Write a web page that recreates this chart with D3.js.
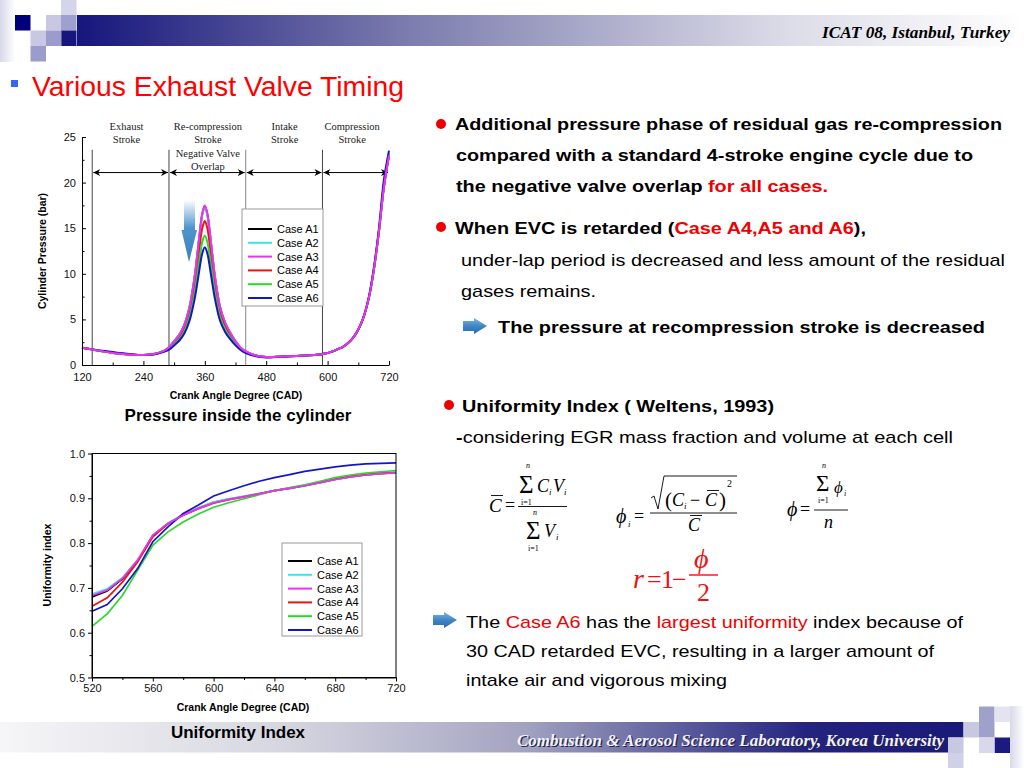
<!DOCTYPE html>
<html>
<head>
<meta charset="utf-8">
<script src="https://cdn.jsdelivr.net/npm/d3@7"></script>
<style>
body { margin: 0; background: #fff; }
svg { display: block; }
text { font-family: "Liberation Sans", Arial, sans-serif; }
</style>
</head>
<body>
<svg id="slide" width="1024" height="768"></svg>
<script>
// ---- data ----
var caseNames = ["Case A1", "Case A2", "Case A3", "Case A4", "Case A5", "Case A6"];
var caseColors = ["#000000", "#3ce4ee", "#f030f0", "#ee1111", "#2ad82a", "#1414cc"];
var drawOrder = [0, 1, 3, 4, 5, 2];

// cylinder pressure (bar) vs crank angle
var pressCad = [120,140,160,180,200,220,240,260,280,290,300,310,320,330,340,345,350,355,360,
  365,370,375,380,390,400,410,420,430,440,460,480,500,520,540,560,580,590,
  600,610,620,630,640,650,660,670,680,690,700,710,720];
var pressA1 = [1.9,1.7,1.5,1.32,1.2,1.12,1.1,1.2,1.55,1.95,2.6,3.3,4.4,6.3,9.6,11.9,14.4,16.5,17.4,
  16.5,14.4,11.9,9.6,6.3,4.6,3.5,2.6,1.9,1.5,1.05,0.88,0.9,0.95,1.0,1.05,1.12,1.2,
  1.3,1.5,1.75,2.0,2.4,3.0,3.9,5.2,7.2,10.3,14.5,19.5,23.0];
var pressA2 = [1.9,1.7,1.5,1.32,1.2,1.12,1.1,1.2,1.55,1.95,2.6,3.3,4.4,6.3,9.6,11.9,14.4,16.4,17.3,
  16.4,14.4,11.9,9.6,6.3,4.6,3.5,2.6,1.9,1.5,1.05,0.88,0.9,0.95,1.0,1.05,1.12,1.2,
  1.3,1.5,1.75,2.0,2.4,3.0,3.9,5.2,7.2,10.3,14.5,19.5,23.0];
var pressA3 = [1.9,1.7,1.5,1.32,1.2,1.12,1.1,1.2,1.55,1.95,2.6,3.3,4.4,6.3,9.6,11.9,14.4,16.6,17.5,
  16.6,14.4,11.9,9.6,6.3,4.6,3.5,2.6,1.9,1.5,1.05,0.88,0.9,0.95,1.0,1.05,1.12,1.2,
  1.3,1.5,1.75,2.0,2.4,3.0,3.9,5.2,7.2,10.3,14.5,19.5,23.0];
var pressA4 = [1.9,1.7,1.5,1.33,1.2,1.12,1.1,1.18,1.52,1.85,2.44,3.06,4.05,5.75,8.71,10.78,13.02,14.99,15.8,
  14.99,13.02,10.78,8.71,5.75,4.23,3.24,2.44,1.81,1.45,1.02,0.87,0.9,0.95,1.0,1.05,1.12,1.2,
  1.3,1.5,1.75,2.0,2.4,3.0,3.9,5.2,7.2,10.3,14.5,19.5,23.0];
var pressA5 = [1.9,1.7,1.52,1.36,1.23,1.13,1.1,1.17,1.5,1.76,2.28,2.84,3.72,5.24,7.88,9.72,11.72,13.48,14.2,
  13.48,11.72,9.72,7.88,5.24,3.88,3.0,2.28,1.72,1.4,1.0,0.86,0.9,0.95,1.0,1.05,1.12,1.2,
  1.3,1.5,1.75,2.0,2.4,3.0,3.9,5.2,7.2,10.3,14.6,19.8,23.2];
var pressA6 = [1.9,1.72,1.55,1.42,1.28,1.16,1.1,1.15,1.45,1.68,2.15,2.66,3.45,4.82,7.2,8.85,10.65,12.23,12.9,
  12.23,10.65,8.85,7.2,4.82,3.6,2.8,2.15,1.65,1.3,0.95,0.82,0.88,0.94,1.0,1.05,1.12,1.2,
  1.3,1.5,1.75,2.0,2.4,3.0,3.9,5.2,7.3,10.5,14.8,20.3,23.5];
var pressTicks = [0, 5, 10, 15, 20, 25];
var pressMinorTicks = [2.5, 7.5, 12.5, 17.5, 22.5];
var pressCadTicks = [120, 240, 360, 480, 600, 720];
var pressCadMinor = [180, 300, 420, 540, 660];
var strokeBounds = [140, 290, 440, 590, 720];
var strokeLabels = [["Exhaust", "Stroke"], ["Re-compression", "Stroke", "Negative Valve", "Overlap"],
  ["Intake", "Stroke"], ["Compression", "Stroke"]];
var strokeLabelCad = [207, 366, 516, 648];
var strokeArrowBar = 21.1;

// uniformity index vs crank angle
var uniCad = [520,530,540,550,560,570,580,590,600,610,620,630,640,650,660,670,680,690,700,710,720];
var uniA1 = [0.680,0.693,0.720,0.761,0.817,0.844,0.863,0.878,0.891,0.898,0.904,0.910,0.917,0.922,0.928,0.935,0.942,0.948,0.952,0.955,0.957];
var uniA2 = [0.686,0.698,0.723,0.763,0.817,0.845,0.864,0.879,0.892,0.899,0.905,0.911,0.917,0.922,0.928,0.935,0.942,0.948,0.952,0.955,0.957];
var uniA3 = [0.683,0.695,0.721,0.762,0.818,0.844,0.862,0.877,0.890,0.897,0.903,0.910,0.917,0.922,0.928,0.935,0.942,0.948,0.952,0.955,0.957];
var uniA4 = [0.659,0.678,0.713,0.758,0.814,0.843,0.862,0.877,0.889,0.897,0.903,0.910,0.917,0.923,0.929,0.936,0.943,0.949,0.953,0.956,0.958];
var uniA5 = [0.614,0.642,0.683,0.739,0.795,0.825,0.847,0.865,0.880,0.890,0.899,0.908,0.917,0.924,0.930,0.938,0.946,0.952,0.956,0.959,0.962];
var uniA6 = [0.648,0.663,0.698,0.743,0.803,0.836,0.866,0.885,0.905,0.917,0.928,0.938,0.946,0.953,0.960,0.965,0.970,0.974,0.977,0.978,0.979];
var uniTicks = [0.5, 0.6, 0.7, 0.8, 0.9, 1.0];
var uniMinorTicks = [0.55, 0.65, 0.75, 0.85, 0.95];
var uniCadTicks = [520, 560, 600, 640, 680, 720];
var uniCadMinor = [540, 580, 620, 660, 700];

var pressSeries = [pressA1, pressA2, pressA3, pressA4, pressA5, pressA6];
var uniSeries = [uniA1, uniA2, uniA3, uniA4, uniA5, uniA6];

var svg = d3.select("#slide");
var defs = svg.append("defs");
var serif = '"Liberation Serif", "Times New Roman", serif';
var sans = '"Liberation Sans", Arial, sans-serif';

function grad(id, stops, x2, y2) {
  var g = defs.append("linearGradient").attr("id", id)
    .attr("x1", 0).attr("y1", 0).attr("x2", x2).attr("y2", y2);
  stops.forEach(function(s) {
    g.append("stop").attr("offset", s[0]).attr("stop-color", s[1]);
  });
}
grad("headBand", [[0, "#16167c"], [0.35, "#7c7cae"], [0.75, "#dcdce8"], [1, "#ffffff"]], 1, 0);
grad("footBand", [[0, "#f6f6f8"], [0.3, "#d6d6e0"], [0.55, "#a4a4c2"], [0.85, "#24247e"], [1, "#1a1a78"]], 1, 0);
grad("sideStrip", [[0, "#d8d8ea"], [1, "#ffffff"]], 1, 0);
grad("downArrow", [[0, "#ffffff"], [0.45, "#4f95cc"], [1, "#3a7fbf"]], 0, 1);
grad("iconArrow", [[0, "#7fb2e0"], [0.5, "#3f86c6"], [1, "#2a6aa8"]], 0, 1);

// ---- header / footer decoration ----
svg.append("rect").attr("x", 0).attr("y", 0).attr("width", 15).attr("height", 62).attr("fill", "url(#sideStrip)");
svg.append("rect").attr("x", 77).attr("y", 15).attr("width", 947).attr("height", 31).attr("fill", "url(#headBand)");
[[15, 15, "#00007a"], [46, 15, "#c8c8e2"], [61, 0, "#d4d4ea"], [61, 15, "#a0a0d0"], [61, 30.5, "#16167c"],
 [30.5, 30.5, "#c8c8e2"], [46, 30.5, "#9c9ccc"], [30.5, 46, "#9c9ccc"]].forEach(function(s) {
  svg.append("rect").attr("x", s[0]).attr("y", s[1]).attr("width", 15.5).attr("height", 15.5).attr("fill", s[2]);
});
svg.append("text").attr("x", 822).attr("y", 38)
  .attr("textLength", 188).attr("lengthAdjust", "spacingAndGlyphs")
  .style("font-family", serif).style("font-style", "italic").style("font-weight", "bold").style("font-size", "16px")
  .text("ICAT 08, Istanbul, Turkey");

svg.append("rect").attr("x", 0).attr("y", 722).attr("width", 948).attr("height", 30.5).attr("fill", "url(#footBand)");
svg.append("rect").attr("x", 948).attr("y", 722).attr("width", 15.5).attr("height", 15.5).attr("fill", "#1a1a78");
svg.append("rect").attr("x", 1010).attr("y", 706).attr("width", 14).attr("height", 62).attr("fill", "url(#sideStrip)");
[[979, 706.5, "#a0a0cc"], [994.5, 706.5, "#e4e4f0"], [963.5, 722, "#c8c8e0"], [979, 722, "#a0a0cc"],
 [994.5, 737.5, "#1a1a80"], [948, 737.5, "#c8c8e0"], [979, 737.5, "#d8d8ea"], [948, 753, "#d0d0e6"]].forEach(function(s) {
  svg.append("rect").attr("x", s[0]).attr("y", s[1]).attr("width", 15.5).attr("height", 15.5).attr("fill", s[2]);
});
["#222244", "#f2f2f8"].forEach(function(c, i) {
  svg.append("text").attr("x", 517 + (i ? 0 : 1.2)).attr("y", 746 + (i ? 0 : 1.2))
    .attr("textLength", 427).attr("lengthAdjust", "spacingAndGlyphs")
    .style("font-family", serif).style("font-style", "italic").style("font-weight", "bold")
    .style("font-size", "16px").attr("fill", c)
    .text("Combustion & Aerosol Science Laboratory, Korea University");
});

// ---- title ----
svg.append("rect").attr("x", 11).attr("y", 80).attr("width", 7).attr("height", 7).attr("fill", "#3366ff");
svg.append("text").attr("x", 32).attr("y", 96)
  .attr("textLength", 372).attr("lengthAdjust", "spacingAndGlyphs")
  .style("font-size", "28px").attr("fill", "#ff0000")
  .text("Various Exhaust Valve Timing");

// ---- right-hand text ----
function textLine(x, y, parts, size, weight, len) {
  var t = svg.append("text").attr("x", x).attr("y", y)
    .style("font-size", size + "px").style("font-weight", weight);
  if (len) t.attr("textLength", len).attr("lengthAdjust", "spacingAndGlyphs");
  parts.forEach(function(p) {
    t.append("tspan").attr("fill", p[1] || "#000").style("font-weight", p[2] || weight).text(p[0]);
  });
}
function bullet(x, y) {
  svg.append("circle").attr("cx", x).attr("cy", y).attr("r", 5).attr("fill", "#ee0000");
}
function iconArrow(x, y) {
  svg.append("path")
    .attr("d", "M" + x + "," + (y + 3) + "H" + (x + 11) + "V" + y + "L" + (x + 24) + "," + (y + 8) +
      "L" + (x + 11) + "," + (y + 16) + "V" + (y + 13) + "H" + x + "Z")
    .attr("fill", "url(#iconArrow)");
}

bullet(441, 124);
textLine(455, 130, [["Additional pressure phase of residual gas re-compression"]], 17, "bold", 547);
textLine(456, 161, [["compared with a standard 4-stroke engine cycle due to"]], 17, "bold", 517);
textLine(456, 192, [["the negative valve overlap "], ["for all cases.", "#ee0000"]], 17, "bold", 372);
bullet(441, 227);
textLine(455, 234, [["When EVC is retarded ("], ["Case A4,A5 and A6", "#ee0000"], ["),"]], 17, "bold", 411);
textLine(461, 266, [["under-lap period is decreased and less amount of the residual"]], 17, "normal", 544);
textLine(461, 297, [["gases remains."]], 17, "normal", 135);
iconArrow(463, 318);
textLine(498, 333, [["The pressure at recompression stroke is decreased"]], 17, "bold", 487);

bullet(449, 405);
textLine(462, 412, [["Uniformity Index ( Weltens, 1993)"]], 17, "bold", 312);
textLine(456, 443, [["-", "#000", "bold"], ["considering EGR mass fraction and volume at each cell"]], 17, "normal", 497);

iconArrow(433, 612);
textLine(466, 628, [["The "], ["Case A6", "#ee0000"], [" has the "], ["largest uniformity", "#ee0000"],
  [" index because of"]], 17, "normal", 497);
textLine(466, 657, [["30 CAD retarded EVC, resulting in a larger amount of"]], 17, "normal", 468);
textLine(466, 686, [["intake air and vigorous mixing"]], 17, "normal", 261);

// ---- formulas ----
function m(x, y, s, size, italic, color) {
  svg.append("text").attr("x", x).attr("y", y)
    .style("font-family", serif).style("font-size", size + "px")
    .style("font-style", italic ? "italic" : "normal")
    .attr("fill", color || "#000").text(s);
}
function bar(x1, x2, y, w, color) {
  svg.append("line").attr("x1", x1).attr("x2", x2).attr("y1", y).attr("y2", y)
    .attr("stroke", color || "#000").attr("stroke-width", w || 0.9);
}
// C-bar
m(489, 512, "C", 19, true); bar(491, 503, 495.5);
m(505, 511, "=", 18);
bar(518, 567, 506.5);
m(519, 493, "\u03A3", 25); m(526, 468, "n", 8, true); m(521, 505, "i=1", 8);
m(537, 492, "C", 18, true); m(549, 495, "i", 9, true); m(553, 492, "V", 18, true); m(564, 495, "i", 9, true);
m(526, 539, "\u03A3", 25); m(533, 515, "n", 8, true); m(528, 551, "i=1", 8);
m(544, 537, "V", 18, true); m(556, 540, "i", 9, true);
// phi_i
m(616, 523, "\u03D5", 20, true); m(628, 527, "i", 9, true);
m(634, 522, "=", 18);
bar(650, 737, 513);
svg.append("path").attr("d", "M651,498 L654,496 L658,509 L664,476 L737,476")
  .attr("fill", "none").attr("stroke", "#000").attr("stroke-width", 0.9);
m(665, 507, "(", 21); m(672, 506, "C", 18, true); m(684, 509, "i", 9, true);
m(690, 506, "\u2212", 18); m(705, 506, "C", 18, true); bar(707, 719, 490.5);
m(719, 507, ")", 21); m(727, 487, "2", 10);
m(688, 531, "C", 18, true); bar(690, 702, 515.5);
// phi
m(787, 516, "\u03D5", 20, true); m(800, 515, "=", 18);
bar(814, 848, 510);
m(816, 491, "\u03A3", 23); m(822, 468, "n", 8, true); m(818, 503, "i=1", 8);
m(834, 493, "\u03D5", 17, true); m(844, 496, "i", 8, true);
m(824, 528, "n", 18, true);
// r
m(633, 588, "r", 28, true, "#ee1111"); m(647, 588, "=", 26, false, "#ee1111");
m(661, 588, "1", 26, false, "#ee1111"); m(672, 588, "\u2212", 26, false, "#ee1111");
bar(689, 718, 575, 1.4, "#ee1111");
m(694, 568, "\u03D5", 28, true, "#ee1111"); m(697, 601, "2", 26, false, "#ee1111");

// ---- shared chart helpers ----
function styleAxis(g) {
  g.attr("font-family", sans).attr("font-size", 11);
  g.selectAll("path, line").attr("stroke", "#000");
  g.selectAll("text").attr("fill", "#111");
}
function legend(x, y, w, h, rowY) {
  var lg = svg.append("g");
  lg.append("rect").attr("x", x).attr("y", y).attr("width", w).attr("height", h)
    .attr("fill", "#fff").attr("stroke", "#999").attr("stroke-width", 1);
  caseNames.forEach(function(n, i) {
    var yy = rowY + i * 13.8;
    lg.append("line").attr("x1", x + 6).attr("x2", x + 30).attr("y1", yy).attr("y2", yy)
      .attr("stroke", caseColors[i]).attr("stroke-width", 2);
    lg.append("text").attr("x", x + 35).attr("y", yy + 4).style("font-size", "11px").text(n);
  });
}

// ---- pressure chart ----
var xP = d3.scaleLinear().domain([120, 720]).range([82, 389]);
var yP = d3.scaleLinear().domain([0, 25]).range([365, 137]);

var pChart = svg.append("g");
strokeBounds.slice(0, 4).forEach(function(c, i) {
  pChart.append("line").attr("x1", xP(c)).attr("x2", xP(c)).attr("y1", yP(23.6)).attr("y2", yP(0))
    .attr("stroke", i == 2 ? "#888" : "#444").attr("stroke-width", 1);
});
defs.append("marker").attr("id", "tip").attr("viewBox", "0 0 10 10")
  .attr("refX", 10).attr("refY", 5).attr("markerWidth", 7).attr("markerHeight", 7)
  .attr("markerUnits", "userSpaceOnUse").attr("orient", "auto-start-reverse")
  .append("path").attr("d", "M0,0 L10,5 L0,10 L3,5 Z").attr("fill", "#000");
for (var i = 0; i < 4; i++) {
  pChart.append("line")
    .attr("x1", xP(strokeBounds[i]) + 1).attr("x2", xP(strokeBounds[i + 1]) - 1)
    .attr("y1", yP(strokeArrowBar)).attr("y2", yP(strokeArrowBar))
    .attr("stroke", "#000").attr("stroke-width", 1)
    .attr("marker-start", "url(#tip)").attr("marker-end", "url(#tip)");
  strokeLabels[i].forEach(function(s, j) {
    pChart.append("text").attr("x", xP(strokeLabelCad[i])).attr("y", 130 + j * 13.3)
      .attr("text-anchor", "middle").style("font-family", serif).style("font-size", "10.5px")
      .attr("fill", "#222").text(s);
  });
}

var linePress = d3.line()
  .x(function(d, i) { return xP(pressCad[i]); })
  .y(function(d) { return yP(d); })
  .curve(d3.curveCatmullRom.alpha(0.5));
drawOrder.forEach(function(k) {
  pChart.append("path").attr("d", linePress(pressSeries[k]))
    .attr("fill", "none").attr("stroke", caseColors[k]).attr("stroke-width", 2);
});

pChart.append("g").attr("transform", "translate(0,365)")
  .call(d3.axisBottom(xP).tickValues(pressCadTicks).tickSizeInner(-4).tickSizeOuter(0).tickPadding(8))
  .call(styleAxis);
pChart.append("g").attr("transform", "translate(0,365)")
  .call(d3.axisBottom(xP).tickValues(pressCadMinor).tickSize(-2.5).tickFormat(""))
  .call(styleAxis).select(".domain").remove();
pChart.append("g").attr("transform", "translate(82,0)")
  .call(d3.axisLeft(yP).tickValues(pressTicks).tickSizeInner(-4).tickSizeOuter(0).tickPadding(6))
  .call(styleAxis);
pChart.append("g").attr("transform", "translate(82,0)")
  .call(d3.axisLeft(yP).tickValues(pressMinorTicks).tickSize(-2.5).tickFormat(""))
  .call(styleAxis).select(".domain").remove();

// blue down arrow over the peak
pChart.append("path")
  .attr("d", "M184,200 H195 V230 H197 L189,262 L181.5,230 H184 Z")
  .attr("fill", "url(#downArrow)");

legend(242, 209, 81, 97, 229);

svg.append("text").attr("x", 236).attr("y", 399).attr("text-anchor", "middle")
  .style("font-size", "10.5px").style("font-weight", "bold").text("Crank Angle Degree (CAD)");
svg.append("text").attr("transform", "translate(46,251) rotate(-90)").attr("text-anchor", "middle")
  .style("font-size", "10.5px").style("font-weight", "bold").text("Cylinder Pressure (bar)");
svg.append("text").attr("x", 238).attr("y", 421).attr("text-anchor", "middle")
  .style("font-size", "17px").style("font-weight", "bold").text("Pressure inside the cylinder");

// ---- uniformity chart ----
var xU = d3.scaleLinear().domain([520, 720]).range([92, 396]);
var yU = d3.scaleLinear().domain([0.5, 1.0]).range([677.5, 453.5]);

var uChart = svg.append("g");
var lineUni = d3.line()
  .x(function(d, i) { return xU(uniCad[i]); })
  .y(function(d) { return yU(d); });
drawOrder.forEach(function(k) {
  uChart.append("path").attr("d", lineUni(uniSeries[k]))
    .attr("fill", "none").attr("stroke", caseColors[k]).attr("stroke-width", 1.7);
});
uChart.append("g").attr("transform", "translate(0,677.5)")
  .call(d3.axisBottom(xU).tickValues(uniCadTicks).tickFormat(d3.format("d")).tickSizeInner(4).tickSizeOuter(0).tickPadding(3))
  .call(styleAxis);
uChart.append("g").attr("transform", "translate(0,677.5)")
  .call(d3.axisBottom(xU).tickValues(uniCadMinor).tickSize(2.5).tickFormat(""))
  .call(styleAxis).select(".domain").remove();
uChart.append("g").attr("transform", "translate(92,0)")
  .call(d3.axisLeft(yU).tickValues(uniTicks).tickFormat(d3.format(".1f")).tickSizeInner(4).tickSizeOuter(0).tickPadding(3))
  .call(styleAxis);
uChart.append("g").attr("transform", "translate(92,0)")
  .call(d3.axisLeft(yU).tickValues(uniMinorTicks).tickSize(2.5).tickFormat(""))
  .call(styleAxis).select(".domain").remove();
uChart.append("rect").attr("x", xU(520)).attr("y", yU(1.0))
  .attr("width", xU(720) - xU(520)).attr("height", yU(0.5) - yU(1.0))
  .attr("fill", "none").attr("stroke", "#000").attr("stroke-width", 1);

legend(282, 543, 80, 93, 561);

svg.append("text").attr("x", 243).attr("y", 711).attr("text-anchor", "middle")
  .style("font-size", "10.5px").style("font-weight", "bold").text("Crank Angle Degree (CAD)");
svg.append("text").attr("transform", "translate(51,565) rotate(-90)").attr("text-anchor", "middle")
  .style("font-size", "10.5px").style("font-weight", "bold").text("Uniformity index");
svg.append("text").attr("x", 238).attr("y", 738).attr("text-anchor", "middle")
  .style("font-size", "17px").style("font-weight", "bold").text("Uniformity Index");
</script>
</body>
</html>
